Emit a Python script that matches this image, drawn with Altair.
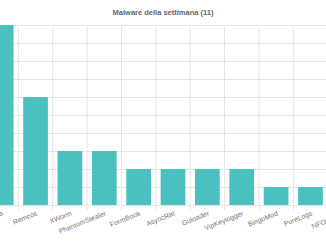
import altair as alt
import pandas as pd

names = ["AgentTesla", "Remcos", "XWorm", "PhantomStealer", "FormBook", "AsyncRat",
         "Guloader", "VipKeylogger", "BingoMod", "PureLogs", "NFOStealer"]
values = [10, 6, 3, 3, 2, 2, 2, 2, 1, 1, 1]
y_ticks = list(range(0, 11))

df = pd.DataFrame({"name": names, "value": values})

FONT = "Liberation Sans"
GRID = "#e5e5e5"

xscale = alt.Scale(domain=names, range=[-16, 362], paddingInner=0, paddingOuter=0)
xaxis = alt.Axis(title=None, labelAngle=-22, labelAlign="right", labelBaseline="top",
                 ticks=False, tickSize=0, domain=False, grid=False, labelPadding=4,
                 labelFontSize=7, labelColor="#777", labelFont=FONT,
                 labelOverlap=False)

bars = alt.Chart(df).mark_bar(color="#4bc0c0", width=alt.RelativeBandSize(0.72)).encode(
    x=alt.X("name:N", sort=None, scale=xscale, axis=xaxis),
    y=alt.Y("value:Q", scale=alt.Scale(domain=[0, 10], nice=False),
            axis=alt.Axis(title=None, values=y_ticks, labels=False, ticks=False,
                          domain=False, grid=True, gridColor=GRID, gridWidth=1)),
)

vgrid = alt.Chart(df).mark_rule(color=GRID, strokeWidth=1).encode(
    x=alt.X("name:N", sort=None, scale=xscale, bandPosition=0, axis=xaxis),
    y=alt.value(0),
    y2=alt.value(185),
)

chart = alt.layer(vgrid, bars).properties(
    width=326, height=180,
    padding={"top": 25, "left": 0, "right": 0, "bottom": 40},
    autosize=alt.AutoSizeParams(type="none"),
    background="white",
    title=alt.TitleParams("Malware della settimana (11)", fontSize=7.5, fontWeight="bold",
                          color="#666", font=FONT, anchor="middle", offset=8),
).configure_view(stroke=None)

chart.save("out.html", embed_options={"renderer": "svg", "actions": False})
